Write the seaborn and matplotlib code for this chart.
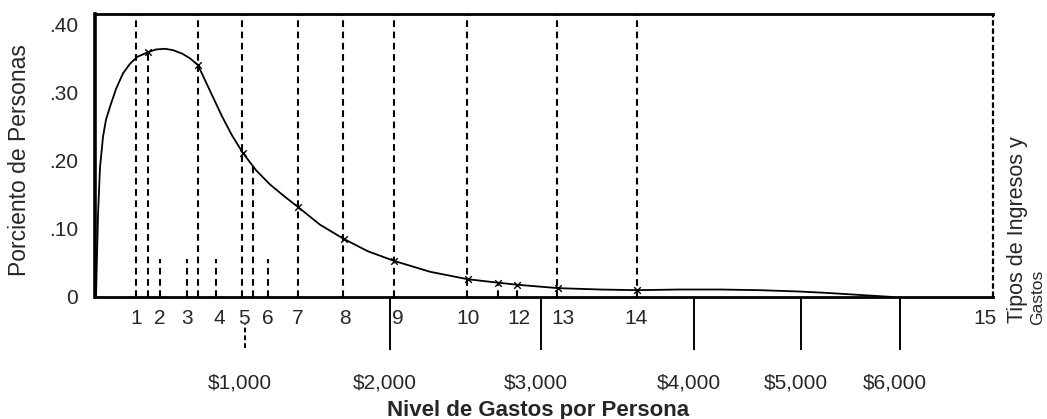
import numpy as np
import pandas as pd
import matplotlib
matplotlib.use('Agg')
import matplotlib.pyplot as plt
import matplotlib.transforms as mtransforms
import seaborn as sns

# ---------------------------------------------------------------------------
# data (x = position along the spending scale,
# in arbitrary chart units; y = share of persons)
# ---------------------------------------------------------------------------
curve_x = [1, 2, 3, 5, 8, 11, 15, 21, 28, 35, 42, 53, 61, 70, 78, 87, 95, 103,
           110, 118, 127, 137, 148, 161, 175, 189, 203, 225, 249, 273, 299,
           335, 373, 403, 422, 463, 505, 542, 585, 625, 665, 705, 732, 765, 798]
curve_y = [0.0, 0.06, 0.12, 0.19, 0.235, 0.26, 0.279, 0.305, 0.328, 0.342,
           0.352, 0.359, 0.363, 0.364, 0.362, 0.357, 0.350, 0.340, 0.318,
           0.293, 0.265, 0.237, 0.211, 0.186, 0.165, 0.148, 0.132, 0.106,
           0.085, 0.067, 0.053, 0.037, 0.026, 0.021, 0.018, 0.013, 0.011,
           0.010, 0.011, 0.011, 0.010, 0.008, 0.006, 0.003, 0.0]

marker_x = [53, 103, 148, 203, 249, 299, 373, 403, 422, 463, 542]
marker_y = [0.359, 0.340, 0.211, 0.132, 0.085, 0.053, 0.026, 0.021, 0.018, 0.013, 0.010]

# income/expense type boundaries
tall_lines = [41, 103, 147, 203, 248, 299, 372, 462, 542]
drop_lines = [53, 158, 403, 422]
drop_tops = [0.359, 0.195, 0.021, 0.018]
short_lines = [65, 92, 121, 173]
short_top = 0.056
right_edge = 898

type_pos = [41, 65, 92, 124, 149, 173, 203, 250, 303, 373, 424, 468, 541, 890]
type_lab = ['1', '2', '3', '4', '5', '6', '7', '8', '9', '10', '12', '13', '14', '15']

dollar_pos = [150, 295, 446, 599, 706, 805]
dollar_lab = ['$1,000', '$2,000', '$3,000', '$4,000', '$5,000', '$6,000']

y_ticks = [0, 0.10, 0.20, 0.30, 0.40]
y_lab = ['0', '.10', '.20', '.30', '.40']

# ---------------------------------------------------------------------------
sns.set_theme(style='white')
plt.rcParams['font.family'] = ['Liberation Sans', 'DejaVu Sans']

fig = plt.figure(figsize=(10.47, 4.19), dpi=100)
ax = fig.add_axes([95/1047, 1-297/419, 898/1047, 283/419])

df = pd.DataFrame({'x': curve_x, 'y': curve_y})
sns.lineplot(data=df, x='x', y='y', ax=ax, color='black', lw=1.3, sort=False)
mk = pd.DataFrame({'x': marker_x, 'y': marker_y})
sns.scatterplot(data=mk, x='x', y='y', ax=ax, marker='x', color='black', s=22, linewidth=1.0, zorder=4)

ds = (0, (3.2, 2.2))
ax.vlines(tall_lines, 0, 1, transform=ax.get_xaxis_transform(), colors='black', lw=1.5, linestyles=[ds])
ax.vlines(drop_lines, 0, drop_tops, colors='black', lw=1.5, linestyles=[ds])
ax.vlines(short_lines, 0, short_top, colors='black', lw=1.5, linestyles=[ds])
ax.vlines([right_edge], 0, 1, transform=ax.get_xaxis_transform(), colors='black', lw=1.6,
          linestyles=[(0, (2.5, 1.2))], clip_on=False)

ax.set_xlim(0, right_edge)
ax.set_ylim(0, 0.415)
for s in ['left', 'top', 'bottom']:
    ax.spines[s].set_color('black')
ax.spines['left'].set_linewidth(2.6)
ax.spines['top'].set_linewidth(2.0)
ax.spines['bottom'].set_linewidth(2.0)
ax.spines['right'].set_visible(False)

ax.set_yticks(y_ticks)
ax.set_yticklabels(y_lab, fontsize=15)
ax.set_xticks(type_pos)
ax.set_xticklabels(type_lab, fontsize=15)
ax.tick_params(axis='y', length=0, pad=12)
ax.tick_params(axis='x', length=0, pad=9)
ax.set_xlabel('')
ax.set_ylabel('')

# dollar scale below the axis
trans = mtransforms.blended_transform_factory(ax.transData, ax.transAxes)
ax.vlines(dollar_pos[1:], -0.187, 0, transform=trans, colors='black', lw=1.4, clip_on=False)
ax.vlines(dollar_pos[:1], -0.18, -0.095, transform=trans, colors='black', lw=1.4,
          linestyles=[(0, (2.5, 1.5))], clip_on=False)
for xp, lab in zip(dollar_pos, dollar_lab):
    ax.text(xp - 5, -0.304, lab, transform=trans, ha='center', va='center', fontsize=15)

fig.text(538/1047, 1-410/419, 'Nivel de Gastos por Persona', ha='center', va='center',
         fontsize=16, fontweight='bold')
fig.text(20/1047, 1-160/419, 'Porciento de Personas', rotation=90, ha='center', va='center',
         fontsize=16.5)
fig.text(1017/1047, 1-323/419, 'Tipos de Ingresos y', rotation=90, ha='center', va='bottom',
         fontsize=15.5)
fig.text(1038/1047, 1-325/419, 'Gastos', rotation=90, ha='center', va='bottom', fontsize=12.5)

fig.savefig('out.png', dpi=100)
